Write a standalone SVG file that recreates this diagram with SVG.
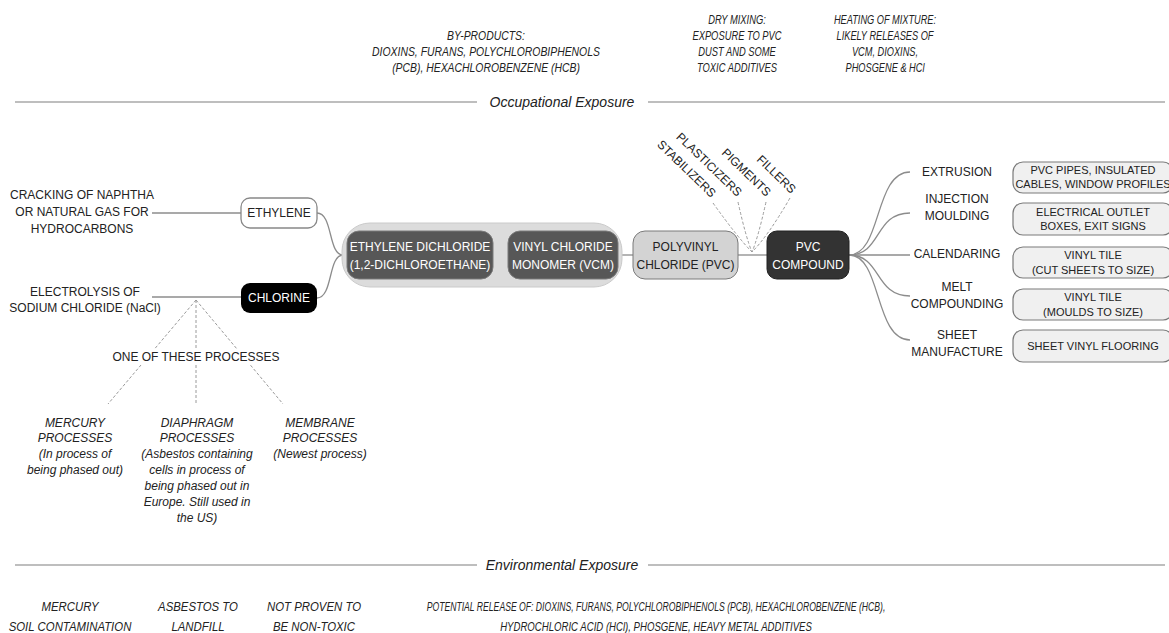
<svg xmlns="http://www.w3.org/2000/svg" width="1169" height="633" viewBox="0 0 1169 633">
<defs>
<style>
.t{font-family:"Liberation Sans",Arial,Helvetica,sans-serif;font-size:12px;fill:#222;text-anchor:middle}
.i{font-style:italic}
.w{fill:#fff}
.sm{font-size:11px}
.big{font-size:14px}
.hd{font-size:13px}
.conn{fill:none;stroke:#8c8c8c;stroke-width:1.3}
.dash{fill:none;stroke:#9a9a9a;stroke-width:1;stroke-dasharray:3 2}
.div{stroke:#a8a8a8;stroke-width:1.5}
.prod{fill:#f0f0f0;stroke:#7a7a7a;stroke-width:1.2}
</style>
</defs>
<rect width="1169" height="633" fill="#fff"/>

<g id="dividers">
<line class="div" x1="15" y1="102" x2="477" y2="102"/>
<line class="div" x1="648" y1="102" x2="1165" y2="102"/>
<text class="t i big" x="562" y="107">Occupational Exposure</text>
<line class="div" x1="15" y1="565" x2="477" y2="565"/>
<line class="div" x1="648" y1="565" x2="1165" y2="565"/>
<text class="t i big" x="562" y="570">Environmental Exposure</text>
</g>

<g id="header-byproducts" transform="translate(486,0) scale(0.8,1)">
<text class="t i hd" x="0" y="40">BY-PRODUCTS:</text>
<text class="t i hd" x="0" y="56">DIOXINS, FURANS, POLYCHLOROBIPHENOLS</text>
<text class="t i hd" x="0" y="72">(PCB), HEXACHLOROBENZENE (HCB)</text>
</g>
<g id="header-drymixing" transform="translate(737,0) scale(0.72,1)">
<text class="t i hd" x="0" y="24">DRY MIXING:</text>
<text class="t i hd" x="0" y="40">EXPOSURE TO PVC</text>
<text class="t i hd" x="0" y="56">DUST AND SOME</text>
<text class="t i hd" x="0" y="72">TOXIC ADDITIVES</text>
</g>
<g id="header-heating" transform="translate(885,0) scale(0.71,1)">
<text class="t i hd" x="0" y="24">HEATING OF MIXTURE:</text>
<text class="t i hd" x="0" y="40">LIKELY RELEASES OF</text>
<text class="t i hd" x="0" y="56">VCM, DIOXINS,</text>
<text class="t i hd" x="0" y="72">PHOSGENE &amp; HCl</text>
</g>

<g id="connectors">
<path class="conn" d="M152,213 H241"/>
<path class="conn" d="M152,297 H241"/>
<path class="conn" d="M317,213 C333,213 328,255 343,255"/>
<path class="conn" d="M317,298 C333,298 328,255 343,255"/>
<path class="conn" d="M493,255 H508"/>
<path class="conn" d="M622,255 H633"/>
<path class="conn" d="M738,255 H767"/>
<path class="conn" d="M849,255 C882,255 874,172 910,172"/>
<path class="conn" d="M849,255 C882,255 874,213 910,213"/>
<path class="conn" d="M849,255 H910"/>
<path class="conn" d="M849,255 C882,255 874,296 910,296"/>
<path class="conn" d="M849,255 C882,255 874,340 910,340"/>
<path class="dash" d="M713,203 Q738,238 752,252"/>
<path class="dash" d="M738,202 Q746,238 752,252"/>
<path class="dash" d="M766,202 Q758,238 752,252"/>
<path class="dash" d="M790,198 Q768,236 752,252"/>
<path class="dash" d="M196,300 L108,404"/>
<path class="dash" d="M196,300 V404"/>
<path class="dash" d="M196,300 L283,404"/>
</g>

<g id="cracking">
<text class="t" x="82" y="199">CRACKING OF NAPHTHA</text>
<text class="t" x="82" y="216">OR NATURAL GAS FOR</text>
<text class="t" x="82" y="233">HYDROCARBONS</text>
</g>
<g id="electrolysis">
<text class="t" x="85" y="296">ELECTROLYSIS OF</text>
<text class="t" x="85" y="312">SODIUM CHLORIDE (NaCl)</text>
</g>
<g id="ethylene">
<rect x="241" y="198" width="76" height="30" rx="9" fill="#fff" stroke="#888" stroke-width="1.3"/>
<text class="t" x="279" y="217">ETHYLENE</text>
</g>
<g id="chlorine">
<rect x="241" y="283" width="76" height="30" rx="9" fill="#000"/>
<text class="t w" x="279" y="302">CHLORINE</text>
</g>
<g id="edc-vcm-group">
<rect x="342" y="223" width="280" height="64" rx="28" fill="#dcdcdc" stroke="#cacaca"/>
</g>
<g id="edc">
<rect x="347" y="231" width="146" height="48" rx="12" fill="#575757" stroke="#7a7a7a"/>
<text class="t w" x="420" y="251">ETHYLENE DICHLORIDE</text>
<text class="t w" x="420" y="269">(1,2-DICHLOROETHANE)</text>
</g>
<g id="vcm">
<rect x="508" y="231" width="110" height="48" rx="12" fill="#575757" stroke="#7a7a7a"/>
<text class="t w" x="563" y="251">VINYL CHLORIDE</text>
<text class="t w" x="563" y="269">MONOMER (VCM)</text>
</g>
<g id="pvc">
<rect x="633" y="231" width="105" height="48" rx="12" fill="#d3d3d3" stroke="#7a7a7a"/>
<text class="t" x="685.5" y="251">POLYVINYL</text>
<text class="t" x="685.5" y="269">CHLORIDE (PVC)</text>
</g>
<g id="pvc-compound">
<rect x="767" y="231" width="82" height="48" rx="10" fill="#333" stroke="#222"/>
<text class="t w" x="808" y="251">PVC</text>
<text class="t w" x="808" y="269">COMPOUND</text>
</g>

<g id="additives">
<text class="t" style="text-anchor:end" transform="translate(711,198) rotate(44)">STABILIZERS</text>
<text class="t" style="text-anchor:end" transform="translate(737,197) rotate(44)">PLASTICIZERS</text>
<text class="t" style="text-anchor:end" transform="translate(766,197) rotate(44)">PIGMENTS</text>
<text class="t" style="text-anchor:end" transform="translate(791,194) rotate(44)">FILLERS</text>
</g>

<g id="processes">
<text class="t" x="957" y="176">EXTRUSION</text>
<text class="t" x="957" y="203">INJECTION</text>
<text class="t" x="957" y="220">MOULDING</text>
<text class="t" x="957" y="258">CALENDARING</text>
<text class="t" x="957" y="291">MELT</text>
<text class="t" x="957" y="308">COMPOUNDING</text>
<text class="t" x="957" y="339">SHEET</text>
<text class="t" x="957" y="356">MANUFACTURE</text>
</g>

<g id="products">
<rect class="prod" x="1013" y="162" width="160" height="31" rx="10"/>
<text class="t sm" x="1093" y="174">PVC PIPES, INSULATED</text>
<text class="t sm" x="1093" y="188">CABLES, WINDOW PROFILES</text>
<rect class="prod" x="1013" y="203" width="160" height="32" rx="10"/>
<text class="t sm" x="1093" y="216">ELECTRICAL OUTLET</text>
<text class="t sm" x="1093" y="230">BOXES, EXIT SIGNS</text>
<rect class="prod" x="1013" y="247" width="160" height="31" rx="10"/>
<text class="t sm" x="1093" y="259">VINYL TILE</text>
<text class="t sm" x="1093" y="274">(CUT SHEETS TO SIZE)</text>
<rect class="prod" x="1013" y="289" width="160" height="31" rx="10"/>
<text class="t sm" x="1093" y="301">VINYL TILE</text>
<text class="t sm" x="1093" y="316">(MOULDS TO SIZE)</text>
<rect class="prod" x="1013" y="330" width="160" height="32" rx="10"/>
<text class="t sm" x="1093" y="350">SHEET VINYL FLOORING</text>
</g>

<g id="one-of-these">
<rect x="113" y="349" width="166" height="16" fill="#fff"/>
<text class="t" x="196" y="361">ONE OF THESE PROCESSES</text>
</g>
<g id="mercury-process">
<text class="t i" x="75" y="427">MERCURY</text>
<text class="t i" x="75" y="442">PROCESSES</text>
<text class="t i" x="75" y="458">(In process of</text>
<text class="t i" x="75" y="474">being phased out)</text>
</g>
<g id="diaphragm-process">
<text class="t i" x="197" y="427">DIAPHRAGM</text>
<text class="t i" x="197" y="442">PROCESSES</text>
<text class="t i" x="197" y="458">(Asbestos containing</text>
<text class="t i" x="197" y="474">cells in process of</text>
<text class="t i" x="197" y="490">being phased out in</text>
<text class="t i" x="197" y="506">Europe. Still used in</text>
<text class="t i" x="197" y="522">the US)</text>
</g>
<g id="membrane-process">
<text class="t i" x="320" y="427">MEMBRANE</text>
<text class="t i" x="320" y="442">PROCESSES</text>
<text class="t i" x="320" y="458">(Newest process)</text>
</g>

<g id="env-mercury" transform="translate(70,0) scale(0.95,1)">
<text class="t i" x="0" y="611">MERCURY</text>
<text class="t i" x="0" y="631">SOIL CONTAMINATION</text>
</g>
<g id="env-asbestos" transform="translate(198,0) scale(0.95,1)">
<text class="t i" x="0" y="611">ASBESTOS TO</text>
<text class="t i" x="0" y="631">LANDFILL</text>
</g>
<g id="env-nottoxic" transform="translate(314,0) scale(0.95,1)">
<text class="t i" x="0" y="611">NOT PROVEN TO</text>
<text class="t i" x="0" y="631">BE NON-TOXIC</text>
</g>
<g id="env-release">
<text class="t i" transform="translate(656,611) scale(0.72,1)">POTENTIAL RELEASE OF: DIOXINS, FURANS, POLYCHLOROBIPHENOLS (PCB), HEXACHLOROBENZENE (HCB),</text>
<text class="t i" transform="translate(656,631) scale(0.8,1)">HYDROCHLORIC ACID (HCl), PHOSGENE, HEAVY METAL ADDITIVES</text>
</g>
</svg>
